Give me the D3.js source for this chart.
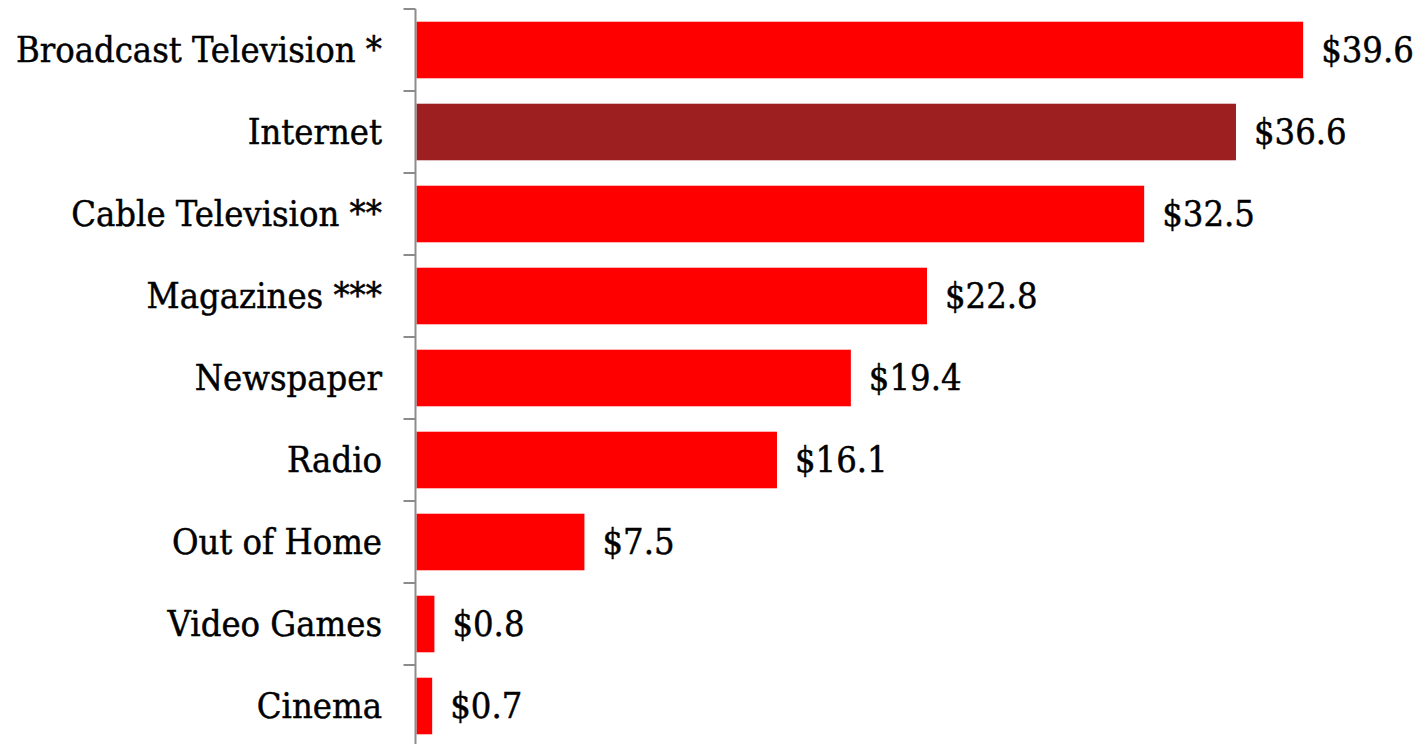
<!DOCTYPE html>
<html>
<head>
<meta charset="utf-8">
<script src="https://cdn.jsdelivr.net/npm/d3@7/dist/d3.min.js"></script>
<style>
  html, body { margin: 0; padding: 0; background: #ffffff; }
  svg { display: block; }
  text { font-family: "DejaVu Serif Condensed", "DejaVu Serif", serif; font-stretch: condensed;
         fill: #000; stroke: #000; stroke-width: 0.45px; }
</style>
</head>
<body>
<script>
// Advertising spend by medium (billions of dollars)
const categories = ["Broadcast Television *", "Internet", "Cable Television **", "Magazines ***",
                    "Newspaper", "Radio", "Out of Home", "Video Games", "Cinema"];
const values = [39.6, 36.6, 32.5, 22.8, 19.4, 16.1, 7.5, 0.8, 0.7];
const valueLabels = ["$39.6", "$36.6", "$32.5", "$22.8", "$19.4", "$16.1", "$7.5", "$0.8", "$0.7"];
const highlight = "Internet";

const W = 1422, H = 744;
const svg = d3.select("body").append("svg").attr("width", W).attr("height", H);

const pad = 0.31;
const y = d3.scaleBand().domain(categories).range([9, 747])
  .paddingInner(pad).paddingOuter(pad / 2);
const x = d3.scaleLinear().domain([0, 40]).range([416.5, 416.5 + 22.39 * 40]);

// bars
svg.selectAll("rect.bar").data(categories).join("rect")
  .attr("class", "bar")
  .attr("x", x(0))
  .attr("y", d => y(d))
  .attr("width", (d, i) => x(values[i]) - x(0))
  .attr("height", y.bandwidth())
  .attr("fill", d => d === highlight ? "#9e1f20" : "#ff0000");

// value labels
svg.selectAll("text.val").data(categories).join("text")
  .attr("class", "val")
  .attr("x", (d, i) => x(values[i]) + 18)
  .attr("y", d => y(d) + y.bandwidth() / 2 + 11.5)
  .attr("font-size", 36)
  .text((d, i) => valueLabels[i]);

// category axis: vertical line with ticks between categories
const axisX = 415.5;
const step = y.step();
const tickYs = categories.map(c => y(c) - pad * step / 2).concat([y.range()[1]]);
const axis = svg.append("g").attr("stroke", "#8c8c8c").attr("stroke-width", 2);
axis.append("line").attr("x1", axisX).attr("x2", axisX).attr("y1", tickYs[0]).attr("y2", H + 5);
axis.selectAll("line.tick").data(tickYs).join("line")
  .attr("class", "tick")
  .attr("x1", axisX - 12).attr("x2", axisX)
  .attr("y1", d => d).attr("y2", d => d);

svg.selectAll("text.cat").data(categories).join("text")
  .attr("class", "cat")
  .attr("x", 382)
  .attr("y", d => y(d) + y.bandwidth() / 2 + 11.5)
  .attr("text-anchor", "end")
  .attr("font-size", 36)
  .text(d => d);
</script>
</body>
</html>
